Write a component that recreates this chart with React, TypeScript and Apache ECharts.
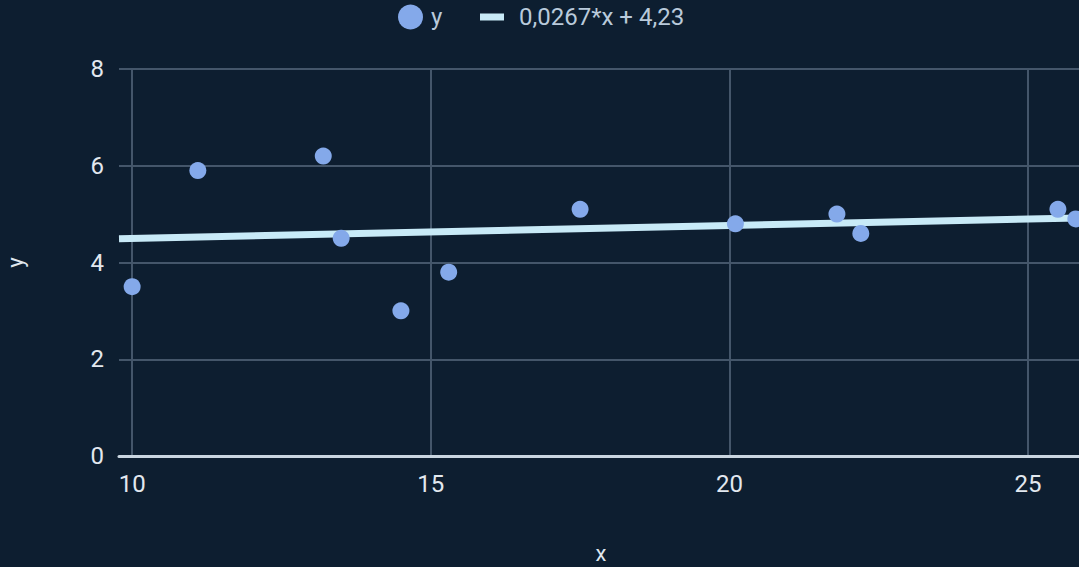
import React, { useEffect, useRef } from "react";
import * as echarts from "echarts";

const xValues = [10.0, 11.1, 13.2, 13.5, 14.5, 15.3, 17.5, 20.1, 21.8, 22.2, 25.5, 25.8];
const yValues = [3.5, 5.9, 6.2, 4.5, 3.0, 3.8, 5.1, 4.8, 5.0, 4.6, 5.1, 4.9];
const xTicks = [10, 15, 20, 25];
const slope = 0.0267;
const intercept = 4.23;
const trendName = "0,0267*x + 4,23";
const xMin = 9.78;
const xMax = 25.92;

export default function App() {
  const ref = useRef<HTMLDivElement>(null);
  useEffect(() => {
    if (!ref.current) return;
    const chart = echarts.init(ref.current, null, { renderer: "svg" });
    const points = xValues.map((x, i) => [x, yValues[i]]);
    const trend = [
      [xMin, slope * xMin + intercept],
      [xMax, slope * xMax + intercept],
    ];
    const legendText = {
      color: "#b9cadb",
      fontSize: 24,
      lineHeight: 26,
      fontFamily: "Roboto",
    };
    chart.setOption({
      animation: false,
      backgroundColor: "#0d1e30",
      textStyle: { fontFamily: "Roboto" },
      legend: [
        {
          top: 4,
          left: 398,
          padding: 0,
          itemWidth: 25,
          itemHeight: 25,
          textStyle: { ...legendText, padding: [0, 0, 0, 3] },
          data: [{ name: "y", icon: "circle" }],
        },
        {
          top: 4,
          left: 480,
          padding: 0,
          itemWidth: 24,
          itemHeight: 7,
          textStyle: { ...legendText, padding: [0, 0, 0, 10] },
          data: [{ name: trendName, icon: "rect" }],
        },
      ],
      grid: {
        left: 119,
        top: 69,
        width: 964,
        height: 387,
        containLabel: false,
        outerBoundsMode: "none",
      },
      xAxis: {
        type: "value",
        min: xMin,
        max: xMax,
        name: "x",
        nameLocation: "middle",
        nameGap: 86,
        nameTextStyle: { color: "#dfe6ee", fontSize: 22 },
        axisLine: { show: true, lineStyle: { color: "#c9d5e0", width: 3 } },
        axisTick: { show: false, customValues: xTicks },
        axisLabel: {
          color: "#e2e8ef",
          fontSize: 24,
          margin: 16,
          customValues: xTicks,
        },
        splitLine: { show: true, lineStyle: { color: "#44566a", width: 2 } },
      },
      yAxis: {
        type: "value",
        min: 0,
        max: 8,
        interval: 2,
        name: "y",
        nameLocation: "middle",
        nameGap: 93,
        nameTextStyle: { color: "#dfe6ee", fontSize: 22 },
        axisLine: { show: false },
        axisTick: { show: false },
        axisLabel: { color: "#e2e8ef", fontSize: 24, margin: 15 },
        splitLine: { show: true, lineStyle: { color: "#44566a", width: 2 } },
      },
      series: [
        {
          name: "y",
          type: "scatter",
          data: points,
          symbolSize: 17,
          itemStyle: { color: "#84a9ea", opacity: 1 },
          clip: false,
          z: 3,
        },
        {
          name: trendName,
          type: "line",
          data: trend,
          showSymbol: false,
          symbol: "none",
          lineStyle: { color: "#c8eaf7", width: 7 },
          itemStyle: { color: "#c8eaf7" },
          z: 2,
        },
      ],
    });
    return () => chart.dispose();
  }, []);
  return (
    <div style={{ position: "fixed", left: 0, top: 0, width: 1079, height: 567, overflow: "hidden" }}>
      <div ref={ref} style={{ width: 1090, height: 567 }} />
    </div>
  );
}
